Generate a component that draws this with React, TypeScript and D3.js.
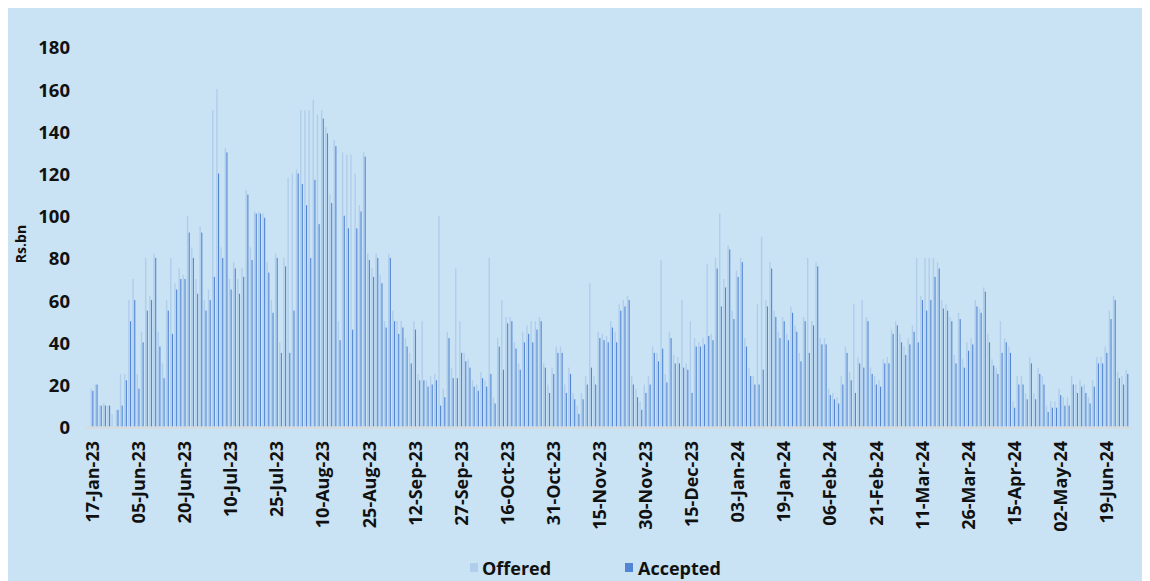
import React from "react";
import * as d3 from "d3";

// Daily offered vs accepted amounts (Rs.bn), one entry per auction day
const offered: number[] = [
  18, 20, 10, 11, 10, 6, 8, 25, 25, 60, 70,
  25, 45, 80, 62, 82, 45, 30, 60, 80, 68, 75,
  72, 100, 85, 70, 95, 60, 65, 150, 160, 85, 132,
  70, 78, 70, 75, 112, 85, 102, 102, 101, 78, 60,
  82, 40, 80, 118, 120, 122, 150, 150, 150, 155, 148,
  150, 142, 110, 136, 50, 130, 129, 129, 120, 105, 130,
  82, 75, 82, 72, 50, 82, 55, 50, 50, 42, 35,
  50, 25, 50, 22, 24, 25, 100, 18, 45, 28, 75,
  50, 35, 32, 22, 20, 26, 22, 80, 14, 42, 60,
  52, 52, 40, 30, 45, 48, 50, 50, 52, 30, 20,
  28, 38, 38, 20, 28, 16, 10, 16, 24, 68, 24,
  45, 44, 43, 50, 45, 58, 60, 62, 24, 18, 12,
  20, 24, 38, 35, 79, 25, 45, 34, 33, 60, 30,
  50, 42, 40, 42, 77, 44, 80, 101, 70, 86, 55,
  74, 80, 42, 28, 24, 58, 90, 60, 78, 55, 45,
  52, 44, 57, 48, 35, 52, 80, 50, 78, 42, 42,
  18, 16, 14, 24, 38, 26, 58, 33, 60, 52, 28,
  24, 22, 32, 33, 46, 50, 44, 38, 42, 48, 80,
  62, 80, 80, 80, 78, 60, 58, 52, 34, 54, 32,
  40, 42, 60, 56, 66, 44, 32, 28, 50, 42, 38,
  12, 24, 24, 16, 33, 16, 28, 24, 10, 12, 12,
  18, 14, 14, 24, 20, 22, 20, 14, 22, 33, 33,
  38, 55, 62, 26, 24, 27,
];

const accepted: number[] = [
  17, 20, 10, 10, 10, 0, 8, 10, 22, 50, 60,
  18, 40, 55, 60, 80, 38, 23, 55, 44, 65, 70,
  70, 92, 80, 63, 92, 55, 60, 71, 120, 80, 130,
  65, 75, 63, 71, 110, 79, 101, 101, 99, 73, 54,
  80, 35, 76, 35, 55, 120, 115, 105, 80, 117, 96,
  146, 139, 106, 133, 41, 100, 94, 46, 94, 102, 128,
  79, 71, 80, 68, 47, 80, 50, 44, 47, 38, 30,
  46, 22, 22, 19, 20, 22, 10, 14, 42, 23, 23,
  35, 31, 28, 19, 17, 23, 19, 25, 11, 38, 27,
  49, 50, 37, 27, 40, 44, 40, 46, 50, 28, 16,
  25, 35, 35, 16, 25, 13, 6, 13, 20, 28, 20,
  42, 41, 40, 47, 40, 55, 57, 60, 20, 14, 8,
  16, 20, 35, 31, 37, 21, 42, 30, 30, 28, 27,
  16, 38, 38, 39, 43, 41, 75, 57, 66, 84, 51,
  71, 78, 38, 24, 20, 20, 27, 57, 75, 52, 42,
  50, 41, 54, 45, 31, 50, 35, 48, 76, 39, 39,
  15, 13, 11, 20, 35, 22, 16, 30, 28, 50, 25,
  20, 19, 30, 30, 44, 48, 40, 34, 39, 45, 40,
  60, 55, 60, 71, 75, 56, 55, 50, 30, 51, 28,
  36, 39, 57, 54, 64, 40, 29, 25, 35, 40, 35,
  9, 20, 20, 13, 30, 13, 25, 20, 7, 9, 9,
  15, 10, 10, 20, 16, 19, 16, 11, 19, 30, 30,
  35, 51, 60, 23, 20, 25,
];

// Axis labels shown every 11th day
const dateLabels: string[] = [
  "17-Jan-23", "05-Jun-23", "20-Jun-23", "10-Jul-23", "25-Jul-23", "10-Aug-23",
  "25-Aug-23", "12-Sep-23", "27-Sep-23", "16-Oct-23", "31-Oct-23", "15-Nov-23",
  "30-Nov-23", "15-Dec-23", "03-Jan-24", "19-Jan-24", "06-Feb-24", "21-Feb-24",
  "11-Mar-24", "26-Mar-24", "15-Apr-24", "02-May-24", "19-Jun-24",
];
const labelEvery = 11;
const yTicks: number[] = [0, 20, 40, 60, 80, 100, 120, 140, 160, 180];

const W = 1135;
const H = 573;
const BG = "#c9e3f4";
const OFFERED = "#b0cdec";
const ACCEPTED = "#5286d4";
const FONT = "'Open Sans', Lato, sans-serif";

export default function App() {
  const n = offered.length;
  const step = 4.19;
  const x0 = 81.9;
  const x = d3.scaleBand<number>().domain(d3.range(n)).range([x0, x0 + n * step]).padding(0);
  const y = d3.scaleLinear().domain([0, 180]).range([418.7, 38.9]);
  const bw = x.bandwidth();

  return (
    <svg width={W} height={H} style={{ display: "block" }} fontFamily={FONT}>
      <rect x={0} y={0} width={W} height={H} fill={BG} />

      {/* bars */}
      <g>
        {offered.map((v, i) => (
          <rect
            key={"o" + i}
            x={(x(i) as number) + 0.6}
            y={y(v)}
            width={1.4}
            height={y(0) - y(v)}
            fill={OFFERED}
          />
        ))}
        {accepted.map((v, i) => (
          <rect
            key={"a" + i}
            x={(x(i) as number) + 2.4}
            y={y(v)}
            width={1.1}
            height={y(0) - y(v)}
            fill={ACCEPTED}
          />
        ))}
      </g>

      {/* baseline */}
      <line x1={x0 - 4} x2={x0 + n * step + 3} y1={y(0) + 1} y2={y(0) + 1} stroke="#d6dbe0" strokeWidth={2.5} />

      {/* y axis labels */}
      <g fontSize={18.5} fontWeight={700} fill="#111">
        {yTicks.map((t) => (
          <text key={t} x={62} y={y(t)} textAnchor="end" dominantBaseline="central">
            {t}
          </text>
        ))}
      </g>
      <text
        transform="translate(12,236) rotate(-90)"
        textAnchor="middle"
        dominantBaseline="central"
        fontSize={14}
        fontWeight={700}
        fill="#111"
      >
        Rs.bn
      </text>

      {/* x axis labels */}
      <g fontSize={18} fontWeight={700} fill="#111">
        {dateLabels.map((lab, k) => {
          const i = k * labelEvery;
          const cx = (x(i) as number) + bw / 2;
          return (
            <text
              key={lab}
              transform={`translate(${cx},${433}) rotate(-90)`}
              textAnchor="end"
              dominantBaseline="central"
            >
              {lab}
            </text>
          );
        })}
      </g>

      {/* legend */}
      <g fontSize={18} fontWeight={700} fill="#111">
        <rect x={462} y={555} width={8} height={9} fill={OFFERED} />
        <text x={474} y={560} dominantBaseline="central">Offered</text>
        <rect x={617} y={555} width={8} height={9} fill={ACCEPTED} />
        <text x={630} y={560} dominantBaseline="central">Accepted</text>
      </g>
    </svg>
  );
}
